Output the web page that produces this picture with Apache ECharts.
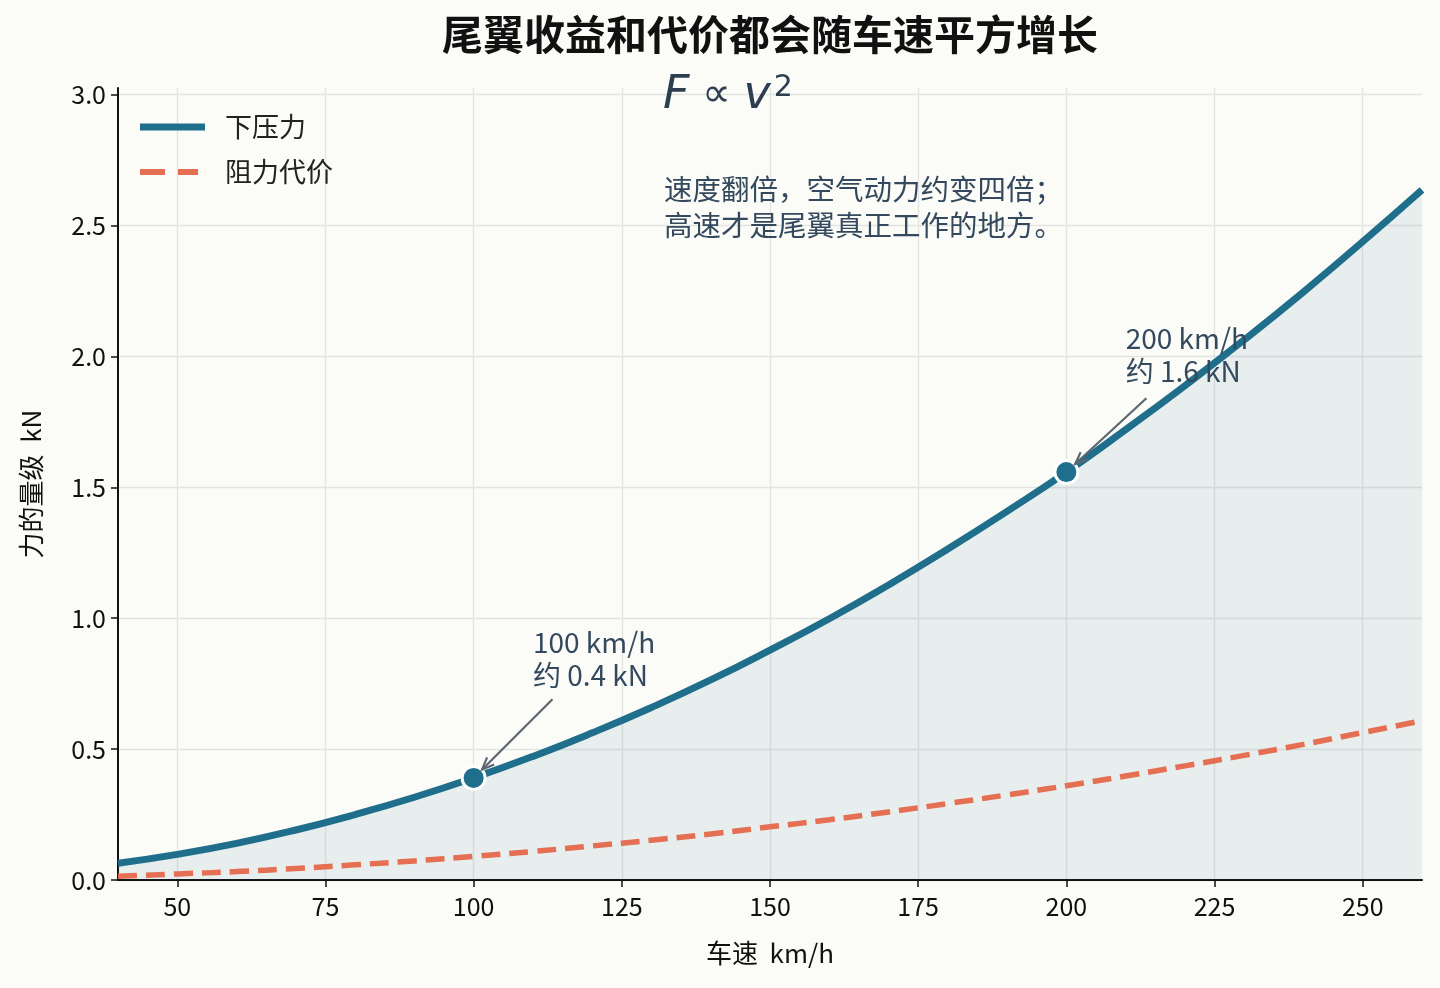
<!DOCTYPE html>
<html>
<head>
<meta charset="utf-8">
<script src="https://cdn.jsdelivr.net/npm/echarts@6/dist/echarts.min.js"></script>
<style>
html,body{margin:0;padding:0;background:#fbfbf7;}
#c{width:1440px;height:988px;}
</style>
</head>
<body>
<div id="c"></div>
<script>
// ---- data ----
const speeds = [40,50,60,70,80,90,100,110,120,130,140,150,160,170,180,190,200,210,220,230,240,250,260];
const downforce = [0.064,0.098,0.140,0.191,0.250,0.316,0.390,0.472,0.562,0.659,0.764,0.878,0.998,1.127,1.264,1.408,1.558,1.720,1.888,2.063,2.246,2.438,2.636];
const dragCost = [0.014,0.023,0.032,0.044,0.058,0.073,0.090,0.109,0.130,0.152,0.176,0.203,0.230,0.260,0.292,0.325,0.360,0.397,0.436,0.476,0.518,0.563,0.608];
const xTicks = [50,75,100,125,150,175,200,225,250];
const yTicks = [0,0.5,1.0,1.5,2.0,2.5,3.0];
const markSpeeds = [100,200];
const markLabels = ['100 km/h\n约 0.4 kN','200 km/h\n约 1.6 kN'];
const labelAnchors = [[110,0.72],[210,1.88]];
const arrowStarts = [[113.3,0.69],[213.5,1.84]];
const seriesNames = ['下压力','阻力代价'];
const titleText = '尾翼收益和代价都会随车速平方增长';
const noteText = '速度翻倍，空气动力约变四倍；\n高速才是尾翼真正工作的地方。';

const FONT = 'Noto Sans CJK SC';
const C_DOWN = '#1f6e8c';
const C_DRAG = '#e46f52';

const chart = echarts.init(document.getElementById('c'), null, {renderer:'canvas'});

const downData = speeds.map((s,i)=>[s,downforce[i]]);
const dragData = speeds.map((s,i)=>[s,dragCost[i]]);
const markData = markSpeeds.map(s=>[s, downforce[speeds.indexOf(s)]]);

const option = {
  backgroundColor:'#fbfbf7',
  animation:false,
  textStyle:{fontFamily:FONT},
  legend:{
    left:140, top:112, orient:'vertical', padding:0, itemWidth:65, itemHeight:7, itemGap:15,
    textStyle:{fontFamily:FONT,fontSize:27,lineHeight:30,color:'#222',padding:[0,0,0,15]},
    data:[
      {name:seriesNames[0], icon:'path://M0,0L65,0L65,7L0,7Z'},
      {name:seriesNames[1], icon:'path://M0,0L25,0L25,6L0,6Z M38,0L58,0L58,6L38,6Z M65,0L65,6L64.9,6L64.9,0Z'}
    ]
  },
  grid:{left:118,right:18,top:88,bottom:108,containLabel:false},
  xAxis:{
    type:'value', min:40, max:260,
    name:'车速  km/h', nameLocation:'middle', nameGap:60,
    nameTextStyle:{fontFamily:FONT,fontSize:26,color:'#111'},
    axisLine:{show:true,onZero:false,lineStyle:{color:'#111',width:2}},
    axisTick:{show:true,length:7,lineStyle:{color:'#111',width:1.5},customValues:xTicks},
    axisLabel:{fontFamily:FONT,fontSize:25,color:'#111',margin:14,customValues:xTicks},
    splitLine:{show:true,lineStyle:{color:'#e2e4e1',width:1.3}}
  },
  yAxis:{
    type:'value', min:0, max:3.025,
    name:'力的量级  kN', nameLocation:'middle', nameGap:74, nameRotate:90,
    nameTextStyle:{fontFamily:FONT,fontSize:26,color:'#111'},
    axisLine:{show:true,lineStyle:{color:'#111',width:2}},
    axisTick:{show:true,length:7,lineStyle:{color:'#111',width:1.5},customValues:yTicks},
    axisLabel:{fontFamily:FONT,fontSize:25,color:'#111',margin:12,customValues:yTicks,
      formatter:v=>v.toFixed(1)},
    splitLine:{show:true,lineStyle:{color:'#e2e4e1',width:1.3}}
  },
  series:[
    {
      name:seriesNames[0], type:'line', data:downData, smooth:true, symbol:'none',
      lineStyle:{color:C_DOWN,width:7}, itemStyle:{color:C_DOWN},
      areaStyle:{color:'rgba(31,110,140,0.12)'}, z:3
    },
    {
      name:seriesNames[1], type:'line', data:dragData, smooth:true, symbol:'none',
      lineStyle:{color:C_DRAG,width:5.5,type:[19,9]}, itemStyle:{color:C_DRAG}, z:3
    },
    {
      name:'marks', type:'scatter', data:markData, symbolSize:23,
      itemStyle:{color:C_DOWN,borderColor:'#fff',borderWidth:3,opacity:1}, z:5
    }
  ]
};
chart.setOption(option);

// plot-centred title and annotations positioned through the chart's own scales
const graphics = [];
const gridRect = chart.getModel().getComponent('grid',0).coordinateSystem.getRect();
graphics.push({
  type:'text', x:gridRect.x+gridRect.width/2, y:14,
  style:{text:titleText,fontFamily:FONT,fontSize:41,fontWeight:'bold',fill:'#111',textAlign:'center'}
});
graphics.push({
  type:'text', left:663, top:73,
  style:{
    text:'{i|F}{n| ∝ }{i|v}{s|2}',
    fill:'#2c3e50',
    rich:{
      i:{fontFamily:'DejaVu Sans',fontStyle:'italic',fontSize:46,fill:'#2c3e50'},
      n:{fontFamily:'DejaVu Sans',fontSize:40,fill:'#2c3e50'},
      s:{fontFamily:'DejaVu Sans',fontSize:30,fill:'#2c3e50',verticalAlign:'top',padding:[0,0,0,3]}
    }
  }
});
graphics.push({
  type:'text', left:664, top:171,
  style:{text:noteText,fontFamily:FONT,fontSize:28.5,lineHeight:36,fill:'#34495e'}
});
markSpeeds.forEach((s,i)=>{
  const pt = chart.convertToPixel({gridIndex:0}, markData[i]);
  const la = chart.convertToPixel({gridIndex:0}, labelAnchors[i]);
  const st = chart.convertToPixel({gridIndex:0}, arrowStarts[i]);
  graphics.push({
    type:'text', x:la[0], y:la[1],
    style:{text:markLabels[i],fontFamily:FONT,fontSize:28,lineHeight:33,fill:'#34495e',
      textAlign:'left',textVerticalAlign:'bottom'}, z:10
  });
  const dx = pt[0]-st[0], dy = pt[1]-st[1];
  const len = Math.sqrt(dx*dx+dy*dy);
  const ux = dx/len, uy = dy/len;
  const ex = pt[0]-ux*12, ey = pt[1]-uy*12;
  const h = 12, w = 5;
  const bx = ex-ux*h, by = ey-uy*h;
  graphics.push({
    type:'line', shape:{x1:st[0],y1:st[1],x2:ex,y2:ey},
    style:{stroke:'#5b6670',lineWidth:2.2}, z:10
  });
  graphics.push({
    type:'polyline', shape:{points:[[bx-uy*w,by+ux*w],[ex,ey],[bx+uy*w,by-ux*w]]},
    style:{stroke:'#5b6670',lineWidth:2.2,fill:null}, z:10
  });
});
chart.setOption({graphic:graphics});
</script>
</body>
</html>
